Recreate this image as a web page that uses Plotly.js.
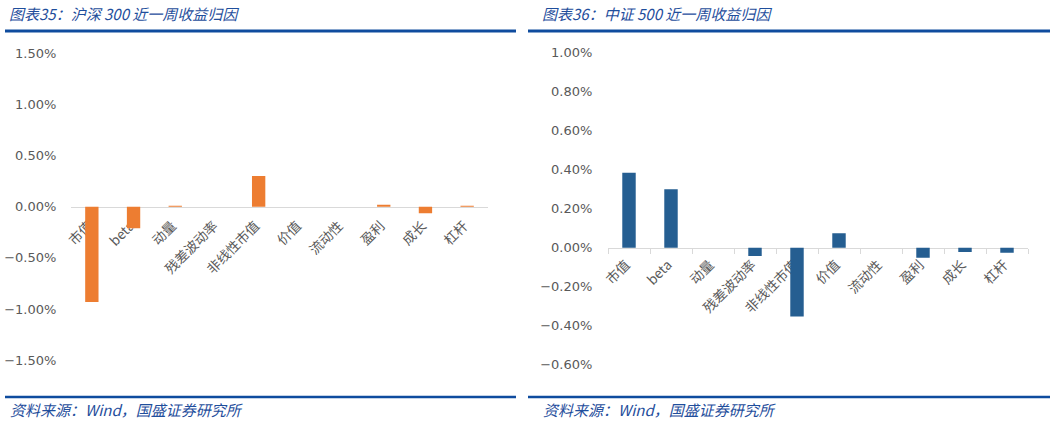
<!DOCTYPE html>
<html>
<head>
<meta charset="utf-8">
<script src="https://cdn.plot.ly/plotly-3.0.1.min.js"></script>
<style>
html,body{margin:0;padding:0;background:#fff;}
#chart{width:1055px;height:422px;}
</style>
</head>
<body>
<div id="chart"></div>
<script>
// ---- data ----
const categories = ['市值', 'beta', '动量', '残差波动率', '非线性市值', '价值', '流动性', '盈利', '成长', '杠杆'];
const hs300Values = [-0.93, -0.21, 0.01, 0.0, 0.30, 0.0, 0.0, 0.02, -0.065, 0.01];   // %
const zz500Values = [0.385, 0.30, 0.0, -0.043, -0.353, 0.074, 0.0, -0.051, -0.022, -0.026]; // %
const leftTitle = '图表35：沪深 300 近一周收益归因';
const rightTitle = '图表36：中证 500 近一周收益归因';
const sourceText = '资料来源：Wind，国盛证券研究所';

// ---- layout constants ----
const W = 1055, H = 422;
const leftRange = [-1.5001, 1.5001];
const rightRange = [-0.6001, 1.0001];
const leftYDom = [(H - 360.3) / H, (H - 53.1) / H];
const rightYDom = [(H - 364.7) / H, (H - 52.7) / H];
function zeroPos(dom, rng) { return dom[0] + (0 - rng[0]) / (rng[1] - rng[0]) * (dom[1] - dom[0]); }

const tickFont = {family: 'DejaVu Sans, Verdana, sans-serif', size: 13, color: '#595959'};
const catFont = {family: 'Noto Sans CJK SC, DejaVu Sans, sans-serif', size: 13.5, color: '#595959'};
const blue = '#0f4c9e';
const titleFont = {family: 'Noto Sans CJK SC, DejaVu Sans, sans-serif', size: 15, color: '#1f4e9c', style: 'italic'};

const traces = [
  {type: 'bar', x: categories, y: hs300Values, xaxis: 'x', yaxis: 'y',
   marker: {color: '#ED7D31', line: {width: 0}}, hoverinfo: 'skip'},
  {type: 'bar', x: categories, y: zz500Values, xaxis: 'x2', yaxis: 'y2',
   marker: {color: '#255E91', line: {width: 0}}, hoverinfo: 'skip'}
];

const layout = {
  width: W, height: H,
  margin: {l: 0, r: 0, t: 0, b: 0},
  paper_bgcolor: '#fff', plot_bgcolor: 'rgba(0,0,0,0)',
  showlegend: false,
  bargap: 0.68,
  xaxis: {domain: [71 / W, 488 / W], anchor: 'free', position: zeroPos(leftYDom, leftRange),
          type: 'category', showline: true, linecolor: '#d9d9d9', linewidth: 1,
          ticks: '', tickangle: -45, tickfont: catFont, showgrid: false, zeroline: false,
          ticklabelstandoff: 5, ticklabelshift: -3,
          layer: 'below traces', fixedrange: true},
  yaxis: {domain: leftYDom, range: leftRange, anchor: 'x', dtick: 0.5, tick0: 0,
          tickformat: '.2f', ticksuffix: '%', tickfont: tickFont,
          ticks: 'outside', ticklen: 11, tickcolor: 'rgba(0,0,0,0)',
          showgrid: false, zeroline: false, showline: false, fixedrange: true},
  xaxis2: {domain: [608 / W, 1028 / W], anchor: 'free', position: zeroPos(rightYDom, rightRange),
          type: 'category', showline: true, linecolor: '#d9d9d9', linewidth: 1,
          ticks: 'outside', tickson: 'boundaries', ticklen: 5, tickcolor: '#d9d9d9',
          tickangle: -45, tickfont: catFont, showgrid: false, zeroline: false,
          ticklabelstandoff: 3, ticklabelshift: -3,
          layer: 'below traces', fixedrange: true},
  yaxis2: {domain: rightYDom, range: rightRange, anchor: 'x2', dtick: 0.2, tick0: 0,
          tickformat: '.2f', ticksuffix: '%', tickfont: tickFont,
          ticks: 'outside', ticklen: 12, tickcolor: 'rgba(0,0,0,0)',
          showgrid: false, zeroline: false, showline: false, fixedrange: true},
  shapes: [
    {type: 'line', xref: 'paper', yref: 'paper', x0: 5 / W, x1: 516 / W, y0: (H - 31) / H, y1: (H - 31) / H, line: {color: blue, width: 3}},
    {type: 'line', xref: 'paper', yref: 'paper', x0: 528 / W, x1: 1050 / W, y0: (H - 31) / H, y1: (H - 31) / H, line: {color: blue, width: 3}},
    {type: 'line', xref: 'paper', yref: 'paper', x0: 5 / W, x1: 516 / W, y0: (H - 397) / H, y1: (H - 397) / H, line: {color: blue, width: 2.5}},
    {type: 'line', xref: 'paper', yref: 'paper', x0: 528 / W, x1: 1050 / W, y0: (H - 397) / H, y1: (H - 397) / H, line: {color: blue, width: 2.5}}
  ],
  annotations: [
    {xref: 'paper', yref: 'paper', x: 7 / W, y: (H - 13) / H, xanchor: 'left', yanchor: 'middle', text: leftTitle, showarrow: false, font: titleFont},
    {xref: 'paper', yref: 'paper', x: 540 / W, y: (H - 13) / H, xanchor: 'left', yanchor: 'middle', text: rightTitle, showarrow: false, font: titleFont},
    {xref: 'paper', yref: 'paper', x: 8 / W, y: (H - 409) / H, xanchor: 'left', yanchor: 'middle', text: sourceText, showarrow: false, font: titleFont},
    {xref: 'paper', yref: 'paper', x: 541 / W, y: (H - 409) / H, xanchor: 'left', yanchor: 'middle', text: sourceText, showarrow: false, font: titleFont}
  ]
};

Plotly.newPlot('chart', traces, layout, {staticPlot: true, displayModeBar: false});
</script>
</body>
</html>
